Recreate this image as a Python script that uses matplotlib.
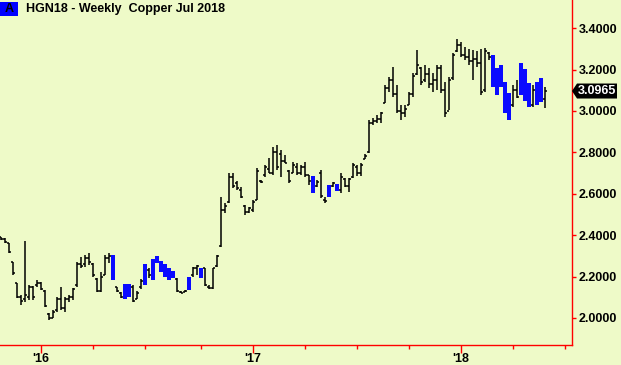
import matplotlib
matplotlib.use('Agg')
import matplotlib.pyplot as plt
from matplotlib.patches import Polygon, Rectangle
import numpy as np
import pandas as pd

# weekly bars of HGN18 (copper Jul 2018)
first_week = '2015-10-23'
highs = [2.393, 2.385, 2.361, 2.272, 2.171, 2.111, 2.374, 2.159, 2.155, 2.184,
         2.176, 2.135, 2.023, 2.039, 2.103, 2.151, 2.103, 2.111, 2.143, 2.272,
         2.296, 2.304, 2.312, 2.264, 2.192, 2.224, 2.304, 2.312, 2.304, 2.151,
         2.127, 2.163, 2.163, 2.159, 2.130, 2.190, 2.259, 2.240, 2.285, 2.301,
         2.275, 2.259, 2.240, 2.227, 2.192, 2.130, 2.135, 2.200, 2.248, 2.256,
         2.240, 2.243, 2.159, 2.243, 2.304, 2.586, 2.554, 2.699, 2.699, 2.660,
         2.634, 2.546, 2.538, 2.570, 2.723, 2.667, 2.739, 2.771, 2.828, 2.836,
         2.812, 2.787, 2.715, 2.755, 2.747, 2.739, 2.755, 2.691, 2.686, 2.667,
         2.715, 2.586, 2.643, 2.659, 2.646, 2.699, 2.676, 2.676, 2.749, 2.741,
         2.749, 2.792, 2.957, 2.965, 2.981, 2.997, 3.126, 3.166, 3.214, 3.126,
         3.029, 3.029, 3.094, 3.182, 3.295, 3.214, 3.222, 3.206, 3.182, 3.222,
         3.222, 3.142, 3.166, 3.279, 3.346, 3.335, 3.310, 3.299, 3.295, 3.291,
         3.298, 3.303, 3.287, 3.270, 3.206, 3.222, 3.142, 3.086, 3.126, 3.150,
         3.230, 3.201, 3.137, 3.126, 3.142, 3.158, 3.118]
lows = [2.377, 2.361, 2.312, 2.208, 2.095, 2.063, 2.079, 2.087, 2.087, 2.151,
        2.135, 2.055, 1.990, 1.998, 2.031, 2.039, 2.031, 2.079, 2.087, 2.151,
        2.240, 2.248, 2.256, 2.200, 2.127, 2.127, 2.208, 2.264, 2.184, 2.127,
        2.095, 2.092, 2.103, 2.079, 2.090, 2.140, 2.159, 2.192, 2.184, 2.264,
        2.221, 2.200, 2.184, 2.192, 2.124, 2.119, 2.124, 2.135, 2.200, 2.208,
        2.195, 2.156, 2.140, 2.140, 2.248, 2.345, 2.506, 2.554, 2.626, 2.620,
        2.578, 2.498, 2.506, 2.514, 2.570, 2.651, 2.683, 2.699, 2.691, 2.715,
        2.683, 2.747, 2.651, 2.699, 2.691, 2.691, 2.683, 2.643, 2.602, 2.634,
        2.578, 2.554, 2.583, 2.634, 2.613, 2.602, 2.633, 2.609, 2.676, 2.684,
        2.684, 2.768, 2.796, 2.932, 2.941, 2.941, 3.037, 3.094, 3.069, 2.989,
        2.957, 2.973, 3.029, 3.069, 3.174, 3.126, 3.142, 3.110, 3.094, 3.101,
        3.086, 2.973, 3.005, 3.150, 3.287, 3.262, 3.246, 3.222, 3.150, 3.214,
        3.077, 3.094, 3.246, 3.118, 3.077, 3.118, 2.989, 2.957, 3.021, 3.061,
        3.077, 3.050, 3.018, 3.021, 3.029, 3.045, 3.013]
opens = [2.39, 2.38, 2.36, 2.27, 2.17, 2.10, 2.09, 2.10, 2.15, 2.16,
         2.17, 2.13, 2.02, 2.00, 2.04, 2.09, 2.05, 2.09, 2.10, 2.16,
         2.26, 2.26, 2.29, 2.26, 2.19, 2.13, 2.21, 2.29, 2.30, 2.15,
         2.12, 2.10, 2.15, 2.15, 2.09, 2.15, 2.17, 2.23, 2.20, 2.28,
         2.27, 2.25, 2.23, 2.22, 2.19, 2.125, 2.125, 2.14, 2.21, 2.24,
         2.23, 2.24, 2.15, 2.145, 2.25, 2.35, 2.52, 2.56, 2.68, 2.65,
         2.62, 2.54, 2.51, 2.52, 2.57, 2.66, 2.69, 2.72, 2.70, 2.80,
         2.79, 2.76, 2.71, 2.70, 2.73, 2.70, 2.73, 2.69, 2.66, 2.64,
         2.70, 2.57, 2.60, 2.64, 2.64, 2.62, 2.67, 2.64, 2.68, 2.73,
         2.70, 2.77, 2.80, 2.94, 2.95, 2.96, 3.04, 3.11, 3.15, 3.08,
         3.00, 2.99, 3.03, 3.08, 3.18, 3.21, 3.15, 3.18, 3.13, 3.15,
         3.21, 3.10, 3.00, 3.16, 3.29, 3.32, 3.27, 3.26, 3.24, 3.25,
         3.23, 3.10, 3.28, 3.26, 3.19, 3.13, 3.13, 3.06, 3.03, 3.10,
         3.09, 3.19, 3.12, 3.03, 3.10, 3.06, 3.06]
closes = [2.38, 2.365, 2.32, 2.215, 2.10, 2.08, 2.11, 2.15, 2.10, 2.17,
          2.14, 2.06, 2.00, 2.03, 2.09, 2.05, 2.09, 2.10, 2.14, 2.26,
          2.25, 2.29, 2.27, 2.21, 2.13, 2.20, 2.29, 2.30, 2.19, 2.13,
          2.10, 2.15, 2.11, 2.08, 2.12, 2.18, 2.25, 2.21, 2.27, 2.27,
          2.23, 2.21, 2.19, 2.20, 2.13, 2.12, 2.13, 2.19, 2.24, 2.25,
          2.20, 2.16, 2.145, 2.24, 2.30, 2.52, 2.54, 2.68, 2.64, 2.63,
          2.585, 2.51, 2.53, 2.56, 2.71, 2.655, 2.73, 2.70, 2.80, 2.73,
          2.76, 2.75, 2.66, 2.74, 2.70, 2.73, 2.69, 2.66, 2.61, 2.655,
          2.59, 2.565, 2.59, 2.65, 2.62, 2.68, 2.64, 2.67, 2.74, 2.70,
          2.74, 2.785, 2.94, 2.95, 2.96, 2.99, 3.11, 3.15, 3.08, 3.00,
          2.99, 3.01, 3.08, 3.17, 3.22, 3.14, 3.18, 3.13, 3.15, 3.21,
          3.10, 2.99, 3.15, 3.27, 3.32, 3.27, 3.26, 3.24, 3.25, 3.23,
          3.09, 3.29, 3.26, 3.13, 3.09, 3.13, 3.00, 2.97, 3.10, 3.07,
          3.20, 3.06, 3.03, 3.10, 3.04, 3.06, 3.0965]
# 1 = week painted as a solid blue block
blue = [0] * 28 + [1, 0, 0, 1, 1, 0, 0, 0, 1, 0, 1, 1, 1, 1, 1, 1, 0, 0, 0, 1, 0, 0, 1] + [0] * 27 + \
       [1, 0, 0, 0, 1, 0, 1] + [0] * 38 + [1, 1, 1, 1, 1, 0, 0, 1, 1, 1, 0, 1, 1, 0]

y_ticks = [2.0, 2.2, 2.4, 2.6, 2.8, 3.0, 3.2, 3.4]
last_price = 3.0965
title = 'HGN18 - Weekly  Copper Jul 2018'

bg = '#eefac8'
axis_red = '#ff0000'
bar_blue = '#0a0aff'

plt.rcParams['font.family'] = ['Liberation Sans', 'DejaVu Sans']

W, H = 621, 365
fig = plt.figure(figsize=(W / 100, H / 100), dpi=100, facecolor=bg)
ax_box = [0, 20 / H, 571.5 / W, 345 / H]
ax = fig.add_axes(ax_box)
ax.set_facecolor(bg)

n = len(highs)
x = np.arange(n)
hi = np.array(highs)
lo = np.array(lows)
op = np.array(opens)
cl = np.array(closes)
is_blue = np.array(blue[:n]) == 1

# black OHLC bars
k = ~is_blue
ax.vlines(x[k], lo[k], hi[k], color='black', lw=1.1)
ax.hlines(op[k], x[k] - 0.45, x[k], color='black', lw=1.1)
ax.hlines(cl[k], x[k], x[k] + 0.45, color='black', lw=1.1)

# blue blocks
ax.bar(x[is_blue], hi[is_blue] - lo[is_blue], bottom=lo[is_blue], width=0.8,
       color=bar_blue, linewidth=0)

# date axis: one tick per quarter, labels at years
weeks = pd.date_range(first_week, periods=n, freq='W-FRI')
t0 = weeks[0]
quarters = pd.date_range('2016-01-01', '2018-07-31', freq='QS')
q_idx = [int(np.ceil((q - t0).days / 7)) for q in quarters]
year_idx = [i for q, i in zip(quarters, q_idx) if q.month == 1]
year_lab = ["'" + str(q.year)[2:] for q in quarters if q.month == 1]

ymin, ymax = 2.0 - 27 / 207, 2.0 + 318 / 207
ax.set_xlim(-0.25, 142.6)
ax.set_ylim(ymin, ymax)

ax.set_xticks(year_idx)
ax.set_xticklabels(year_lab, fontsize=9, fontweight='bold')
ax.set_xticks([i for i in q_idx if i not in year_idx], minor=True)
ax.tick_params(axis='x', which='major', length=6, width=1, color=axis_red, pad=0)
ax.tick_params(axis='x', which='minor', length=3, width=1, color=axis_red)

ax.yaxis.tick_right()
ax.set_yticks(y_ticks)
ax.set_yticklabels(['%.4f' % v for v in y_ticks], fontsize=9, fontweight='bold')
ax.tick_params(axis='y', length=3, width=1, color=axis_red, pad=2)

for s in ['left', 'top']:
    ax.spines[s].set_visible(False)
for s in ['right', 'bottom']:
    ax.spines[s].set_color(axis_red)
    ax.spines[s].set_linewidth(1)

# last price tag on the right axis
yp = ax_box[1] + (last_price - ymin) / (ymax - ymin) * ax_box[3]
hh = 7.5 / H
tag = Polygon([(572 / W, yp), (577 / W, yp + hh), (617 / W, yp + hh),
               (617 / W, yp - hh), (577 / W, yp - hh)], closed=True,
              transform=fig.transFigure, fc='black', ec='none')
fig.patches.append(tag)
fig.text(597 / W, yp, '%.4f' % last_price, ha='center', va='center',
         fontsize=9, fontweight='bold', color='white')

# title with blue "A" box
fig.patches.append(Rectangle((0, 1 - 16 / H), 18 / W, 14 / H, transform=fig.transFigure,
                             fc='#0000ff', ec='none'))
fig.text(9 / W, 1 - 9 / H, 'A', ha='center', va='center', fontsize=9, fontweight='bold',
         color='black')
fig.text(26 / W, 1 - 9 / H, title, ha='left', va='center', fontsize=9,
         fontweight='bold', color='black')

fig.savefig('out.png', dpi=100, facecolor=bg)
